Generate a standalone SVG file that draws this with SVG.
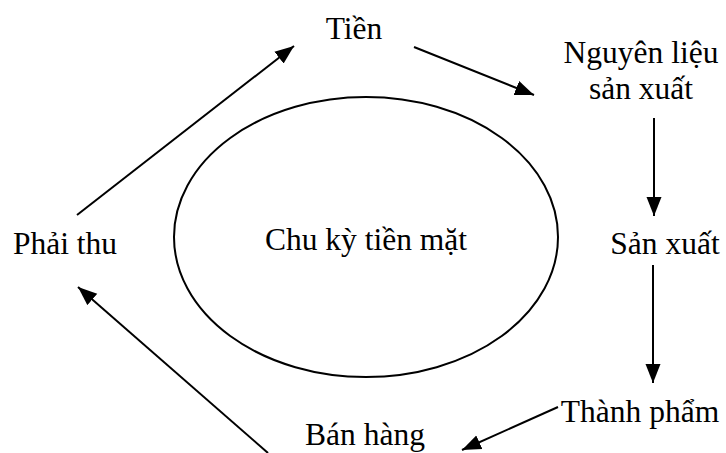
<svg xmlns="http://www.w3.org/2000/svg" width="726" height="453" viewBox="0 0 726 453">
<style>
text{font-family:"Liberation Serif","Times New Roman","DejaVu Serif",serif;font-size:31.5px;fill:#000;text-anchor:middle}
.c line{stroke:#000;stroke-width:2;marker-end:url(#ah)}
</style>
<defs>
<marker id="ah" markerUnits="userSpaceOnUse" markerWidth="20" markerHeight="16" refX="19" refY="7.5" orient="auto" viewBox="0 0 20 15">
<path d="M0,0 L19,7.5 L0,15 Z" fill="#000"/>
</marker>
</defs>
<rect width="726" height="453" fill="#fff"/>
<g id="cycle">
<ellipse cx="366" cy="237" rx="192" ry="140" fill="none" stroke="#000" stroke-width="2"/>
<text x="366" y="250" font-size="32">Chu kỳ tiền mặt</text>
</g>
<g id="tien"><text x="354" y="39">Tiền</text></g>
<g id="nguyenlieu"><text x="641" y="63">Nguyên liệu</text><text x="641" y="99">sản xuất</text></g>
<g id="sanxuat"><text x="665" y="254">Sản xuất</text></g>
<g id="thanhpham"><text x="640" y="422">Thành phẩm</text></g>
<g id="banhang"><text x="365" y="445">Bán hàng</text></g>
<g id="phaithu"><text x="65" y="254">Phải thu</text></g>
<g class="c" id="connectors">
<line x1="77" y1="215" x2="294" y2="46"/>
<line x1="414" y1="47" x2="534" y2="95"/>
<line x1="654" y1="118" x2="654" y2="216"/>
<line x1="653" y1="265" x2="653" y2="383"/>
<line x1="558" y1="407" x2="462" y2="450"/>
<line x1="268" y1="453" x2="78" y2="287"/>
</g>
</svg>
